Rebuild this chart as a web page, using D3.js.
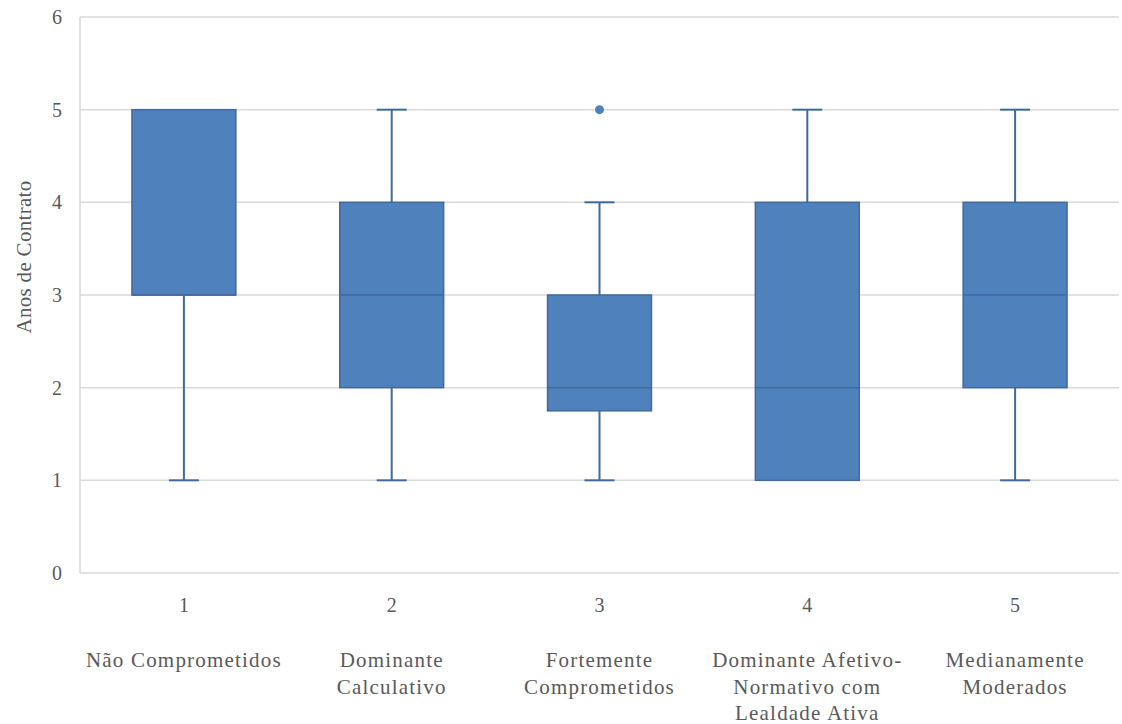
<!DOCTYPE html>
<html><head><meta charset="utf-8"><script src="https://cdn.jsdelivr.net/npm/d3@7"></script>
<style>
  @font-face { font-family: "ChartSerif"; src: local("Liberation Serif"), local("LiberationSerif"), local("Tinos"), local("Times New Roman"); }
</style>
</head>
<body style="margin:0">
<svg id="s" width="1122" height="724"></svg>
<script>
// Category codes and names
const codes = ["1", "2", "3", "4", "5"];
const names = [
  ["Não Comprometidos"],
  ["Dominante", "Calculativo"],
  ["Fortemente", "Comprometidos"],
  ["Dominante Afetivo-", "Normativo com", "Lealdade Ativa"],
  ["Medianamente", "Moderados"]
];
// Box statistics per group
const whiskerLow = [1, 1, 1, 1, 1];
const q1 = [3, 2, 1.75, 1, 2];
const median = [3, 3, 2, 2, 3];
const q3 = [5, 4, 3, 4, 4];
const whiskerHigh = [5, 5, 4, 5, 5];
const outliers = [[], [], [5], [], []];
const yTicks = [0, 1, 2, 3, 4, 5, 6];

const TEXT = "#595959";
// serif faces tried in turn, each pass asks for a fresh family name
const FONTS = [
  '"ChartSerif", "Liberation Serif", serif',
  '"Liberation Serif", "ChartSerif", serif',
  'Tinos, "ChartSerif", serif',
  '"Times New Roman", "ChartSerif", serif'
];
let pass = 0;
const fill = "#4f81bd", stroke = "#41699c";
const m = { left: 80, right: 1119, top: 17, bottom: 573 };

const x = d3.scaleBand().domain(codes).range([m.left, m.right]);
const y = d3.scaleLinear().domain([0, 6]).range([m.bottom, m.top]);

function label(sel, size) {
  return sel.style("font-family", FONTS[pass % FONTS.length])
    .attr("font-size", size || 20).attr("fill", TEXT);
}

function draw() {
  const svg = d3.select("#s");
  svg.selectAll("*").remove();

  // Gridlines
  svg.append("g").selectAll("line").data(yTicks.filter(d => d > 0)).join("line")
    .attr("x1", m.left).attr("x2", m.right)
    .attr("y1", d => y(d)).attr("y2", d => y(d))
    .attr("stroke", "#d9d9d9").attr("stroke-width", 1.5);

  // Axis lines
  svg.append("line").attr("x1", m.left).attr("x2", m.left)
    .attr("y1", y(6)).attr("y2", y(0)).attr("stroke", "#d9d9d9").attr("stroke-width", 1.5);
  svg.append("line").attr("x1", m.left).attr("x2", m.right)
    .attr("y1", y(0)).attr("y2", y(0)).attr("stroke", "#d9d9d9").attr("stroke-width", 1.5);

  // Y tick labels
  svg.append("g").selectAll("text").data(yTicks).join("text")
    .attr("x", 62).attr("y", d => y(d)).attr("dy", "0.35em")
    .attr("text-anchor", "end").call(label, 20).text(d => d);

  // Y axis title
  svg.append("text")
    .attr("transform", `translate(31,257) rotate(-90)`)
    .attr("text-anchor", "middle").call(label, 21).attr("letter-spacing", 0.3)
    .text("Anos de Contrato");

  const bw = x.bandwidth() / 2;
  const capW = 30;
  const groups = svg.append("g").selectAll("g").data(codes).join("g");

  groups.each(function (c, i) {
    const g = d3.select(this);
    const cx = x(c) + x.bandwidth() / 2;
    // whiskers with caps
    if (whiskerHigh[i] > q3[i]) {
      g.append("line").attr("x1", cx).attr("x2", cx)
        .attr("y1", y(q3[i])).attr("y2", y(whiskerHigh[i]))
        .attr("stroke", stroke).attr("stroke-width", 2);
      g.append("line").attr("x1", cx - capW / 2).attr("x2", cx + capW / 2)
        .attr("y1", y(whiskerHigh[i])).attr("y2", y(whiskerHigh[i]))
        .attr("stroke", stroke).attr("stroke-width", 2);
    }
    if (whiskerLow[i] < q1[i]) {
      g.append("line").attr("x1", cx).attr("x2", cx)
        .attr("y1", y(q1[i])).attr("y2", y(whiskerLow[i]))
        .attr("stroke", stroke).attr("stroke-width", 2);
      g.append("line").attr("x1", cx - capW / 2).attr("x2", cx + capW / 2)
        .attr("y1", y(whiskerLow[i])).attr("y2", y(whiskerLow[i]))
        .attr("stroke", stroke).attr("stroke-width", 2);
    }
    // box
    g.append("rect")
      .attr("x", cx - bw / 2).attr("width", bw)
      .attr("y", y(q3[i])).attr("height", y(q1[i]) - y(q3[i]))
      .attr("fill", fill).attr("stroke", stroke).attr("stroke-width", 1.5);
    // median
    g.append("line").attr("x1", cx - bw / 2).attr("x2", cx + bw / 2)
      .attr("y1", y(median[i])).attr("y2", y(median[i]))
      .attr("stroke", stroke).attr("stroke-width", 1.5);
    // outliers
    g.selectAll("circle").data(outliers[i]).join("circle")
      .attr("cx", cx).attr("cy", d => y(d)).attr("r", 4.5).attr("fill", fill);
    // code label
    g.append("text").attr("x", cx).attr("y", 612).attr("text-anchor", "middle")
      .call(label, 20).text(c);
    // category name
    const t = g.append("text").attr("text-anchor", "middle").call(label, 21)
      .attr("letter-spacing", 1.2);
    names[i].forEach((line, k) => {
      t.append("tspan").attr("x", cx).attr("y", 667 + k * 26.5).text(line);
    });
  });
  pass += 1;
}

draw();
// redraw after the serif face has loaded, asking under a new family name each time
if (document.fonts) {
  document.fonts.load('20px "ChartSerif"').then(draw);
  document.fonts.ready.then(draw);
}
requestAnimationFrame(() => requestAnimationFrame(draw));
</script>
</body>
</html>
